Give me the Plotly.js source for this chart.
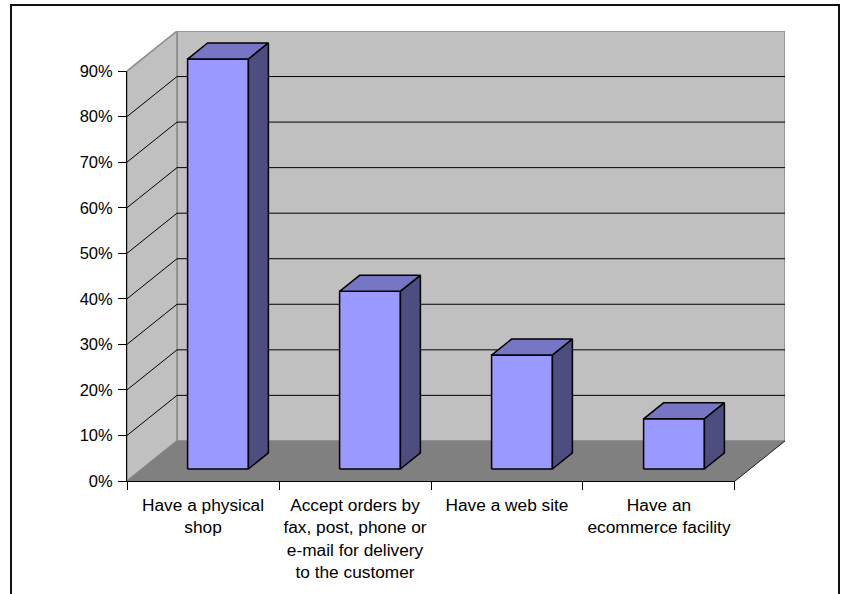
<!DOCTYPE html>
<html>
<head>
<meta charset="utf-8">
<script src="https://cdn.plot.ly/plotly-3.0.1.min.js"></script>
<style>
  html, body { margin: 0; padding: 0; background: #ffffff; }
  #wrap { position: relative; width: 847px; height: 594px; overflow: hidden; }
  #chart { position: absolute; left: 0; top: 0; width: 847px; height: 594px; }
  #frame { position: absolute; left: 10px; top: 4px; width: 826px; height: 640px;
           border: 2px solid #111; pointer-events: none; }
</style>
</head>
<body>
<div id="wrap">
  <div id="chart"></div>
  <div id="frame"></div>
</div>
<script>
// ---- data ----
const categories = [
  "Have a physical shop",
  "Accept orders by fax, post, phone or e-mail for delivery to the customer",
  "Have a web site",
  "Have an ecommerce facility"
];
const tickLabels = [
  "Have a physical<br>shop",
  "Accept orders by<br>fax, post, phone or<br>e-mail for delivery<br>to the customer",
  "Have a web site",
  "Have an<br>ecommerce facility"
];
const values = [90, 39, 25, 11];
const yTickVals = [0, 10, 20, 30, 40, 50, 60, 70, 80, 90];
const yTickText = ["0%", "10%", "20%", "30%", "40%", "50%", "60%", "70%", "80%", "90%"];

// ---- 3D look (projection of depth onto the 2D axes) ----
const Y_MAX = 90;          // top of walls
const DX = 0.329;          // depth shift in category units
const DY = 8.8;            // depth shift in percent units
const HALF_W = 0.2;        // half bar width (category units)
const Z0 = 0.3, Z1 = 0.7;  // bar front / back depth
const FONT = "Liberation Sans, Arial, sans-serif";
const nCat = categories.length;
const xLo = -0.5, xHi = nCat - 0.5;

function P(x, y, z) { return [x + z * DX, y + z * DY]; }
function polyTrace(pts, fill, lineColor, lineWidth) {
  const xs = [], ys = [];
  pts.forEach(p => { const q = P(p[0], p[1], p[2]); xs.push(q[0]); ys.push(q[1]); });
  xs.push(xs[0]); ys.push(ys[0]);
  return { type: "scatter", mode: "lines", x: xs, y: ys, fill: "toself",
           fillcolor: fill, line: { color: lineColor, width: lineWidth },
           hoverinfo: "skip", xaxis: "x", yaxis: "y" };
}
function lineTrace(segs, color, width) {
  const xs = [], ys = [];
  segs.forEach(s => {
    s.forEach(p => { const q = P(p[0], p[1], p[2]); xs.push(q[0]); ys.push(q[1]); });
    xs.push(null); ys.push(null);
  });
  return { type: "scatter", mode: "lines", x: xs, y: ys,
           line: { color: color, width: width }, hoverinfo: "skip",
           xaxis: "x", yaxis: "y" };
}

const traces = [];
// back wall
traces.push(polyTrace([[xLo, 0, 1], [xHi, 0, 1], [xHi, Y_MAX, 1], [xLo, Y_MAX, 1]], "#c0c0c0", "#8a8a8a", 1.5));
// side wall
traces.push(polyTrace([[xLo, 0, 0], [xLo, 0, 1], [xLo, Y_MAX, 1], [xLo, Y_MAX, 0]], "#c0c0c0", "#8a8a8a", 1.5));
// floor
traces.push(polyTrace([[xLo, 0, 0], [xHi, 0, 0], [xHi, 0, 1], [xLo, 0, 1]], "#808080", "#808080", 0.5));
// floor right edge
traces.push(lineTrace([[[xHi, 0, 0], [xHi, 0, 1]]], "#222222", 1));
// gridlines on walls
const gridSegs = [];
yTickVals.filter(v => v > 0 && v < Y_MAX).forEach(v => {
  gridSegs.push([[xLo, v, 1], [xHi, v, 1]]);
  gridSegs.push([[xLo, v, 0], [xLo, v, 1]]);
});
traces.push(lineTrace(gridSegs, "#000000", 1));

// bars
values.forEach((v, i) => {
  const l = i - HALF_W, r = i + HALF_W;
  traces.push(polyTrace([[l, 0, Z0], [r, 0, Z0], [r, v, Z0], [l, v, Z0]], "#9999ff", "#000000", 1.5));
  traces.push(polyTrace([[l, v, Z0], [r, v, Z0], [r, v, Z1], [l, v, Z1]], "#7676c4", "#000000", 1.5));
  traces.push(polyTrace([[r, 0, Z0], [r, 0, Z1], [r, v, Z1], [r, v, Z0]], "#4d4d80", "#000000", 1.5));
});

// invisible trace carrying the front axes
traces.push({ type: "scatter", mode: "markers", x: tickLabels, y: values.map(() => 0),
              marker: { opacity: 0 }, hoverinfo: "skip", xaxis: "x2", yaxis: "y2" });

const xSpan = (xHi + DX) - xLo;
const ySpan = Y_MAX + DY;

const layout = {
  width: 847, height: 594,
  margin: { l: 127, r: 62, t: 31, b: 113 },
  paper_bgcolor: "#ffffff",
  plot_bgcolor: "rgba(0,0,0,0)",
  showlegend: false,
  font: { family: FONT, size: 16, color: "#000000" },
  xaxis: { range: [xLo, xHi + DX], visible: false, fixedrange: true },
  yaxis: { range: [0, ySpan], visible: false, fixedrange: true },
  xaxis2: {
    type: "category", categoryorder: "array", categoryarray: tickLabels,
    anchor: "y2", domain: [0, (xHi - xLo) / xSpan], range: [xLo, xHi],
    tickson: "boundaries", ticks: "outside", ticklen: 8, tickcolor: "#000000", tickwidth: 1,
    showline: true, linecolor: "#000000", linewidth: 1,
    showgrid: false, zeroline: false, tickangle: 0, automargin: false,
    ticklabelstandoff: 8,
    tickfont: { family: FONT, size: 17.3, color: "#000000" }, fixedrange: true
  },
  yaxis2: {
    anchor: "x2", domain: [0, Y_MAX / ySpan], range: [0, Y_MAX],
    tickmode: "array", tickvals: yTickVals, ticktext: yTickText,
    ticks: "outside", ticklen: 8, tickcolor: "#000000", tickwidth: 1,
    showline: true, linecolor: "#000000", linewidth: 1,
    showgrid: false, zeroline: false, automargin: false,
    ticklabelstandoff: 2,
    tickfont: { family: FONT, size: 16.5, color: "#000000" }, fixedrange: true
  }
};

Plotly.newPlot("chart", traces, layout, { displayModeBar: false, staticPlot: true });
</script>
</body>
</html>
